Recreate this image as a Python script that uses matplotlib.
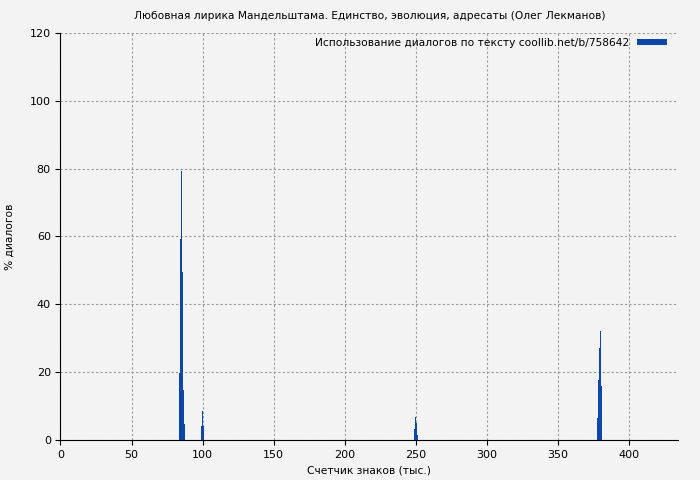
import matplotlib
matplotlib.use('Agg')
import matplotlib.pyplot as plt
import numpy as np

# counter in thousands of characters, % of dialogues
pos_x = [83.6, 84.3, 85.0, 85.7, 86.4, 87.1,
         98.6, 99.3, 100.0,
         248.4, 249.1, 249.8, 250.5,
         377.2, 377.9, 378.6, 379.3, 380.0]
pct = [19.8, 59.3, 79.4, 49.6, 14.8, 4.7,
       4.2, 8.6, 4.2,
       3.2, 6.9, 4.9, 1.6,
       6.4, 17.7, 27.0, 32.2, 15.9]

bg = '#f3f3f3'
fig = plt.figure(figsize=(7, 4.8), dpi=100, facecolor=bg)
ax = fig.add_axes([0.0864, 0.0833, 0.8822, 0.848])
ax.set_facecolor(bg)
ax.spines['top'].set_visible(False)
ax.spines['right'].set_visible(False)

ax.bar(pos_x, pct, width=0.7, align='edge', color='#0b47a8',
       label='Использование диалогов по тексту coollib.net/b/758642')

ax.set_xlim(0, 434.5)
ax.set_ylim(0, 120)
ax.set_xticks(np.arange(0, 401, 50))
ax.set_yticks(np.arange(0, 121, 20))
ax.grid(color='#999999', linestyle=(0, (2, 2)), linewidth=0.8)
ax.set_axisbelow(True)
ax.tick_params(labelsize=8)

ax.set_title('Любовная лирика Мандельштама. Единство, эволюция, адресаты (Олег Лекманов)',
             fontsize=7.7, pad=10)
ax.set_xlabel('Счетчик знаков (тыс.)', fontsize=7.7)
ax.set_ylabel('% диалогов', fontsize=7.7, labelpad=11)
leg = ax.legend(loc='upper right', fontsize=7.7, frameon=False, markerfirst=False,
                handlelength=2.8, handleheight=0.4, borderaxespad=0.6,
                bbox_to_anchor=(1.0, 1.014))

fig.savefig('out.png', dpi=100, facecolor=bg)
